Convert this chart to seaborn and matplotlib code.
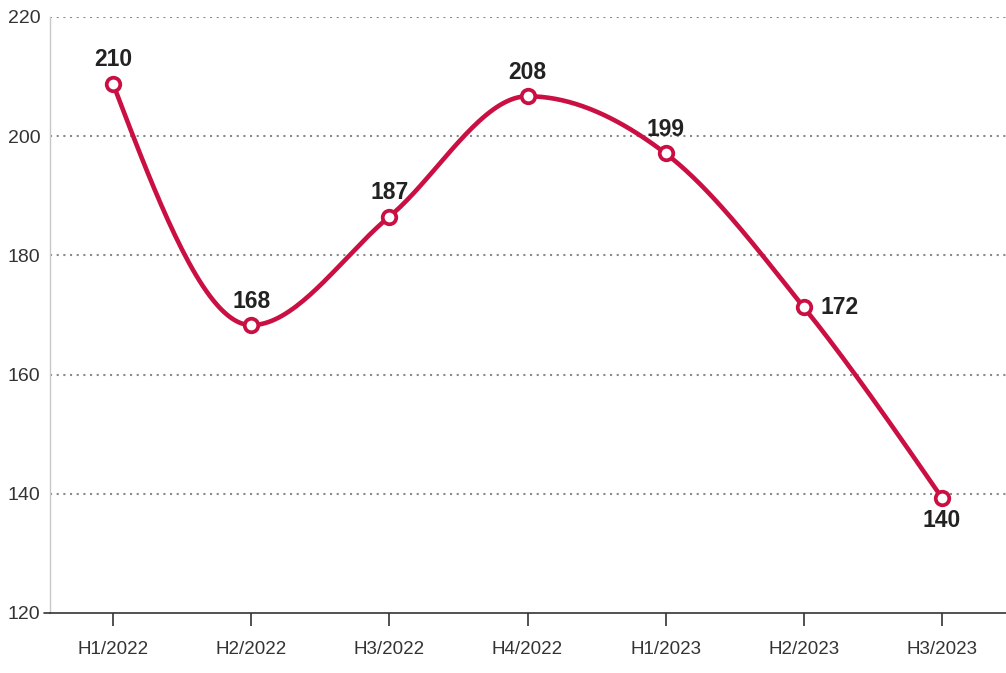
import numpy as np
import pandas as pd
import matplotlib
matplotlib.use("Agg")
import matplotlib.pyplot as plt
import matplotlib.transforms as mtransforms
import seaborn as sns

categories = ["H1/2022", "H2/2022", "H3/2022", "H4/2022", "H1/2023", "H2/2023", "H3/2023"]
values = [208.8, 168.3, 186.5, 206.7, 197.1, 171.3, 139.3]
labels = ["210", "168", "187", "208", "199", "172", "140"]
yticks = [120, 140, 160, 180, 200, 220]

sns.set_theme(style="white")
plt.rcParams["font.family"] = ["Liberation Sans", "DejaVu Sans"]

RED = "#CA0F43"


def monotone_x(y, n=40):
    y = np.asarray(y, float)
    m = len(y)
    s = np.diff(y)
    t = np.zeros(m)
    for i in range(1, m - 1):
        s0, s1 = s[i - 1], s[i]
        p = (s0 + s1) / 2
        t[i] = (np.sign(s0) + np.sign(s1)) * min(abs(s0), abs(s1), 0.5 * abs(p))
    t[0] = (3 * s[0] - t[1]) / 2
    t[-1] = (3 * s[-1] - t[-2]) / 2
    xs, ys = [], []
    for i in range(m - 1):
        u = np.linspace(0, 1, n, endpoint=(i == m - 2))
        h00 = 2 * u**3 - 3 * u**2 + 1
        h10 = u**3 - 2 * u**2 + u
        h01 = -2 * u**3 + 3 * u**2
        h11 = u**3 - u**2
        xs.append(i + u)
        ys.append(h00 * y[i] + h10 * t[i] + h01 * y[i + 1] + h11 * t[i + 1])
    return np.concatenate(xs), np.concatenate(ys)


fig = plt.figure(figsize=(10.06, 6.73), dpi=100)
ax = fig.add_axes([50 / 1006, 60 / 673, 956 / 1006, 596 / 673])

xs, ys = monotone_x(values)
curve = pd.DataFrame({"x": xs, "y": ys})
sns.lineplot(data=curve, x="x", y="y", ax=ax, color=RED, linewidth=3.3, sort=False, zorder=3)
pts = pd.DataFrame({"x": np.arange(len(values)), "y": values})
sns.scatterplot(data=pts, x="x", y="y", ax=ax, s=95, color="white", edgecolor=RED,
                linewidth=2.7, zorder=4)

for i, (v, lab) in enumerate(zip(values, labels)):
    kw = dict(textcoords="offset points", fontsize=16.5, fontweight="bold", color="#222222")
    if i == 5:
        ax.annotate(lab, (i, v), xytext=(12, 0), ha="left", va="center", **kw)
    elif i == 6:
        ax.annotate(lab, (i, v), xytext=(0, -8), ha="center", va="top", **kw)
    else:
        ax.annotate(lab, (i, v), xytext=(0, 9), ha="center", va="bottom", **kw)

ax.set_xlim(-0.456, 6.463)
ax.set_ylim(120, 220)
ax.set_yticks(yticks)
ax.set_yticklabels([str(t) for t in yticks], fontsize=14, color="#333333")
ax.set_xticks(range(len(categories)))
ax.set_xticklabels(categories, fontsize=13.5, color="#333333")
ax.set_xlabel("")
ax.set_ylabel("")

shift = mtransforms.ScaledTranslation(0, -3 / 72, fig.dpi_scale_trans)
for lbl in ax.get_yticklabels()[1:]:
    lbl.set_transform(lbl.get_transform() + shift)

for t in yticks[1:]:
    ax.axhline(t, color="#8a8a8a", linestyle=(0, (1, 2.2)), linewidth=1.5, zorder=1)

for side in ["top", "right"]:
    ax.spines[side].set_visible(False)
ax.spines["left"].set_color("#c8c8c8")
ax.spines["left"].set_linewidth(1.0)
ax.spines["bottom"].set_color("#333333")
ax.spines["bottom"].set_linewidth(1.2)
ax.tick_params(axis="x", which="both", bottom=True, length=9, width=1.2, color="#333333", pad=11)
ax.tick_params(axis="y", which="both", left=False, length=0, pad=7)
ax.plot([-0.456 - 0.04, -0.456], [120, 120], color="#333333", lw=1.2, clip_on=False)

fig.savefig("out.png", dpi=100)
